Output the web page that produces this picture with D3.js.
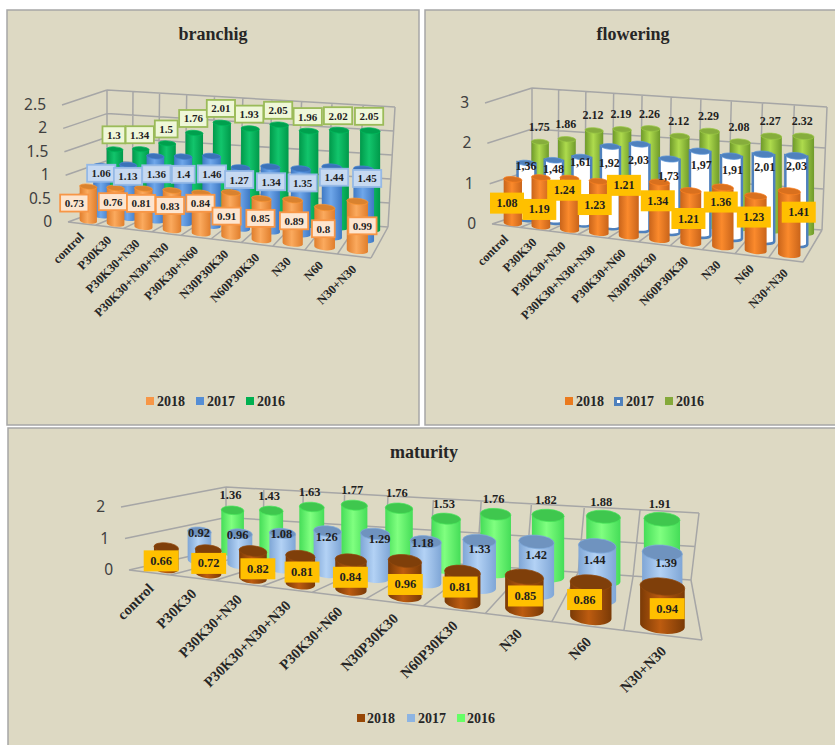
<!DOCTYPE html>
<html>
<head>
<meta charset="utf-8">
<script src="https://cdn.jsdelivr.net/npm/d3@7"></script>
<style>
	html, body { margin: 0; padding: 0; background: #fff; }
	svg { display: block; }
	.tick-label { font-family: "Noto Sans", sans-serif; font-size: 15.5px; fill: #404040; }
	.title { font-family: "Liberation Serif", serif; font-weight: bold; font-size: 18px; fill: #262626; text-anchor: middle; }
	.cat-label { font-family: "Liberation Serif", serif; font-weight: bold; fill: #262626; text-anchor: end; }
	.legend-label { font-family: "Liberation Serif", serif; font-weight: bold; font-size: 14px; fill: #262626; }
	.value-label { font-family: "Liberation Serif", serif; font-weight: bold; fill: #1f1f1f; text-anchor: middle; dominant-baseline: central; }
</style>
</head>
<body>
<svg id="plot"></svg>
<script>
const WIDTH = 835;
const HEIGHT = 745;

const categories = ["control", "P30K30", "P30K30+N30", "P30K30+N30+N30", "P30K30+N60", "N30P30K30", "N60P30K30", "N30", "N60", "N30+N30"];
const years = ["2018", "2017", "2016"];

const branchig2018 = [0.73, 0.76, 0.81, 0.83, 0.84, 0.91, 0.85, 0.89, 0.8, 0.99];
const branchig2017 = [1.06, 1.13, 1.36, 1.4, 1.46, 1.27, 1.34, 1.35, 1.44, 1.45];
const branchig2016 = [1.3, 1.34, 1.5, 1.76, 2.01, 1.93, 2.05, 1.96, 2.02, 2.05];

const flowering2018 = [1.08, 1.19, 1.24, 1.23, 1.21, 1.34, 1.21, 1.36, 1.23, 1.41];
const flowering2017 = [1.36, 1.48, 1.61, 1.92, 2.03, 1.73, 1.97, 1.91, 2.01, 2.03];
const flowering2016 = [1.75, 1.86, 2.12, 2.19, 2.26, 2.12, 2.29, 2.08, 2.27, 2.32];

const maturity2018 = [0.66, 0.72, 0.82, 0.81, 0.84, 0.96, 0.81, 0.85, 0.86, 0.94];
const maturity2017 = [0.92, 0.96, 1.08, 1.26, 1.29, 1.18, 1.33, 1.42, 1.44, 1.39];
const maturity2016 = [1.36, 1.43, 1.63, 1.77, 1.76, 1.53, 1.76, 1.82, 1.88, 1.91];

const branchigTicks = [0, 0.5, 1, 1.5, 2, 2.5];
const floweringTicks = [0, 1, 2, 3];
const maturityTicks = [0, 1, 2];

// data labels were dragged by hand in the original, these are the per-label offsets
const branchigNudge2018 = [[-8, 12], [3, 9], [3, 10], [3, 10], [4, 5], [0, 18], [3, 14], [5, 15], [2, 15], [8, 18]];
const branchigNudge2017 = [[3, 6], [3, 10], [4, 16], [3, 16], [3, 16], [1, 10], [3, 13], [4, 12], [4, 8], [5, 7]];
const floweringNudge2018 = [[-1, 17], [3, 25], [-1, 5], [0, 16], [-1, -7], [2, 11], [1, 20], [1, 7], [1, 13], [12, 13]];
const floweringNudge2017 = [[1, -5], [1, 0], [0, -4], [0, 8], [0, 7], [0, 8], [2, 5], [2, 5], [2, 4], [1, 1]];
const maturityNudge2018 = [[5, 7], [10, 7], [14, 11], [10, 9], [7, 10], [7, 16], [3, 7], [5, 11], [-4, 8], [5, 13]];
const maturityNudge2017 = [[3, -5], [1, -6], [2, -6], [2, -1], [7, -2], [-1, -6], [2, 1], [1, 6], [-2, 7], [4, 3]];

const panels = [
	{
		id: "branchig",
		title: "branchig",
		titleAt: [213, 40],
		box: [7, 10, 412, 415],
		series: [branchig2018, branchig2017, branchig2016],
		ticks: branchigTicks,
		floor: [[68, 222], [371, 258], [388, 227], [107, 208]],
		roof: [[62, 105], [376, 132], [395, 107], [107, 90]],
		warpFront: 1.12,
		warpBack: 1.12,
		radius: 0.32,
		tilt: 0.3,
		fontSize: 11,
		catFont: 12.4,
		catOffset: [3, 14],
		legendAt: [[146, 157], [196, 207], [246, 257]],
		legendY: 401,
		fills: [
			{ edge: "#e07e2c", mid: "#fbaa5e", top: "#d9822f" },
			{ edge: "#3f79c4", mid: "#6fa7ea", top: "#3b72b8" },
			{ edge: "#00994a", mid: "#12c56c", top: "#00a04e" },
		],
		swatches: ["#f79646", "#558ed5", "#00b050"],
		labels: [
			{ shift: -0.45, dx: 0, dy: 2, fill: "#fde5cf", stroke: "#f79646", nudge: branchigNudge2018 },
			{ shift: -0.25, dx: 0, dy: 0, fill: "#c6d9f1", stroke: "#95b9e6", nudge: branchigNudge2017 },
			{ shift: 0, dx: -1, dy: -14.5, fill: "#eff7d8", stroke: "#9bbb59" },
		],
	},
	{
		id: "flowering",
		title: "flowering",
		titleAt: [633, 40],
		box: [425, 10, 412, 415],
		series: [flowering2018, flowering2017, flowering2016],
		ticks: floweringTicks,
		floor: [[492, 224], [803, 262], [822, 230], [532, 211]],
		roof: [[485, 103], [808, 124], [827, 107], [532, 88]],
		warpFront: 1.12,
		warpBack: 1.12,
		radius: 0.33,
		tilt: 0.3,
		fontSize: 12,
		catFont: 12.4,
		catOffset: [3, 14],
		legendAt: [[565, 576], [614, 626], [665, 676]],
		legendY: 401,
		fills: [
			{ edge: "#c9641a", mid: "#fb8a2c", top: "#d9701e" },
			{ edge: "#ffffff", mid: "#ffffff", top: "#4f81bd", stroke: "#4f81bd" },
			{ edge: "#6f9a2a", mid: "#aedb4d", top: "#86ad3c" },
		],
		swatches: ["#ea7a1e", "#4f81bd", "#84a93a"],
		hollowSwatch: 1,
		labels: [
			{ shift: -0.35, dx: 0, dy: 5, fill: "#ffc000", nudge: floweringNudge2018 },
			{ shift: -0.1, dx: 0, dy: 8, comma: true, nudge: floweringNudge2017 },
			{ shift: 0, dx: -1, dy: -15 },
		],
	},
	{
		id: "maturity",
		title: "maturity",
		titleAt: [424, 458],
		box: [8, 428, 840, 330],
		series: [maturity2018, maturity2017, maturity2016],
		ticks: maturityTicks,
		floor: [[129, 570], [702, 640], [691, 580], [226, 548]],
		roof: [[121, 507], [712, 553], [699, 513], [226, 487]],
		warpFront: 1.42,
		warpBack: 1.28,
		radius: 0.3,
		tilt: 0.38,
		fontSize: 12.5,
		catFont: 14.5,
		catOffset: [5, 17],
		legendAt: [[357, 367], [407, 418], [457, 467]],
		legendY: 718,
		fills: [
			{ edge: "#7a3a06", mid: "#bd5c10", top: "#7f3f0a" },
			{ edge: "#7fa6d6", mid: "#b3d2f5", top: "#6f93bf" },
			{ edge: "#45dd58", mid: "#80ff80", top: "#3fc74e" },
		],
		swatches: ["#974706", "#8db4e2", "#66ff66"],
		labels: [
			{ shift: -0.3, dx: 0, dy: 4, fill: "#ffc000", nudge: maturityNudge2018 },
			{ shift: -0.1, dx: 0, dy: 6, nudge: maturityNudge2017 },
			{ shift: 0, dx: -2, dy: -15 },
		],
	},
];

const svg = d3.select("#plot").attr("width", WIDTH).attr("height", HEIGHT);
const defs = svg.append("defs");

const lerp = (a, b, t) => [a[0] + (b[0] - a[0]) * t, a[1] + (b[1] - a[1]) * t];
const quadAt = ([fl, fr, br, bl], u, d) => lerp(lerp(fl, fr, u), lerp(bl, br, u), d);
const segment = (a, b) => `M${a[0]},${a[1]}L${b[0]},${b[1]}`;

function drawPanel(panel) {
	const g = svg.append("g");
	const [bx, by, bw, bh] = panel.box;
	g.append("rect")
		.attr("x", bx).attr("y", by).attr("width", bw).attr("height", bh)
		.attr("fill", "#ddd9c3").attr("stroke", "#a6a6a6").attr("stroke-width", 1.5);

	g.append("text").attr("class", "title")
		.attr("x", panel.titleAt[0]).attr("y", panel.titleAt[1]).text(panel.title);

	const xScale = d3.scaleBand(categories, [0, 1]);
	const depthScale = d3.scaleBand(years, [0, 1.05]);
	const heightScale = d3.scaleLinear([0, d3.max(panel.ticks)], [0, 1]);
	// spacing widens towards the viewer side, as in the 3D original
	const warp = (u, d) => {
		const r = panel.warpFront + (panel.warpBack - panel.warpFront) * d;
		return u / (u + (1 - u) * r);
	};
	const project = (u, d, h) => lerp(quadAt(panel.floor, warp(u, d), d), quadAt(panel.roof, warp(u, d), d), h);
	// columns stand upright: x stays at the foot, only y follows the box
	const upright = (u, d, h) => [quadAt(panel.floor, warp(u, d), d)[0], project(u, d, h)[1]];

	// walls and floor
	let grid = "";
	panel.ticks.forEach(t => {
		const h = heightScale(t);
		grid += segment(project(0, 0, h), project(0, 1, h)) + segment(project(0, 1, h), project(1, 1, h));
	});
	d3.range(categories.length + 1).map(i => i / categories.length).forEach(u => {
		grid += segment(project(u, 0, 0), project(u, 1, 0)) + segment(project(u, 1, 0), project(u, 1, 1));
	});
	grid += segment(project(0, 0, 0), project(1, 0, 0));
	g.append("path").attr("d", grid).attr("fill", "none").attr("stroke", "#a6a6a6").attr("stroke-width", 1.5);

	panel.ticks.forEach(t => {
		const p = project(0, 0, heightScale(t));
		g.append("text").attr("class", "tick-label")
			.attr("x", p[0] - 16).attr("y", p[1] + 5).attr("text-anchor", "end").text(t);
	});

	categories.forEach(c => {
		const p = project(xScale(c) + xScale.bandwidth() / 2, 0, 0);
		g.append("text").attr("class", "cat-label")
			.attr("font-size", panel.catFont)
			.attr("transform", `translate(${p[0] + panel.catOffset[0]},${p[1] + panel.catOffset[1]}) rotate(-45)`)
			.text(c);
	});

	panel.fills.forEach((f, i) => {
		const grad = defs.append("linearGradient").attr("id", `${panel.id}-${i}`);
		grad.append("stop").attr("offset", "0%").attr("stop-color", f.edge);
		grad.append("stop").attr("offset", "45%").attr("stop-color", f.mid);
		grad.append("stop").attr("offset", "100%").attr("stop-color", f.edge);
	});

	// far row first
	const halfWidth = panel.radius * xScale.bandwidth();
	d3.range(years.length).reverse().forEach(s => {
		const f = panel.fills[s];
		const d = depthScale(years[s]) + depthScale.bandwidth() / 2;
		categories.forEach((c, i) => {
			const u = xScale(c) + xScale.bandwidth() / 2;
			const h = heightScale(panel.series[s][i]);
			const bl = upright(u - halfWidth, d, 0);
			const br = upright(u + halfWidth, d, 0);
			const tl = upright(u - halfWidth, d, h);
			const tr = upright(u + halfWidth, d, h);
			const rx = Math.hypot(tr[0] - tl[0], tr[1] - tl[1]) / 2;
			const ry = rx * panel.tilt;
			const angle = Math.atan2(tr[1] - tl[1], tr[0] - tl[0]) * 180 / Math.PI;
			g.append("path")
				.attr("d", `M${tl[0]},${tl[1]}L${bl[0]},${bl[1]}A${rx},${ry} ${angle} 0 0 ${br[0]},${br[1]}L${tr[0]},${tr[1]}Z`)
				.attr("fill", `url(#${panel.id}-${s})`)
				.attr("stroke", f.stroke || "none")
				.attr("stroke-width", f.stroke ? 2.5 : 0);
			const cx = (tl[0] + tr[0]) / 2;
			const cy = (tl[1] + tr[1]) / 2;
			g.append("ellipse")
				.attr("cx", cx).attr("cy", cy).attr("rx", rx).attr("ry", ry)
				.attr("transform", `rotate(${angle} ${cx} ${cy})`)
				.attr("fill", f.top)
				.attr("stroke", d3.color(f.top).brighter(0.4))
				.attr("stroke-width", 0.7);
		});
	});

	// data labels sit on top of every column
	d3.range(years.length).reverse().forEach(s => {
		const style = panel.labels[s];
		const d = depthScale(years[s]) + depthScale.bandwidth() / 2 + style.shift * depthScale.bandwidth();
		categories.forEach((c, i) => {
			const value = panel.series[s][i];
			const p = upright(xScale(c) + xScale.bandwidth() / 2, d, heightScale(value));
			const [nx, ny] = style.nudge ? style.nudge[i] : [0, 0];
			const x = p[0] + style.dx + nx;
			const y = p[1] + style.dy + ny;
			const text = style.comma ? String(value).replace(".", ",") : String(value);
			const box = g.append("rect");
			const t = g.append("text").attr("class", "value-label")
				.attr("font-size", panel.fontSize).attr("x", x).attr("y", y).text(text);
			if (style.fill) {
				const w = t.node().getComputedTextLength() + (style.stroke ? 9 : 13);
				const ht = style.stroke ? 17 : 21;
				box.attr("x", x - w / 2).attr("y", y - ht / 2).attr("width", w).attr("height", ht)
					.attr("fill", style.fill)
					.attr("stroke", style.stroke || "none")
					.attr("stroke-width", style.stroke ? 1.8 : 0);
			} else {
				box.remove();
			}
		});
	});

	years.forEach((year, i) => {
		const [sx, tx] = panel.legendAt[i];
		const hollow = panel.hollowSwatch === i;
		g.append("rect")
			.attr("x", sx + (hollow ? 1.5 : 0)).attr("y", panel.legendY - 4 + (hollow ? 1.5 : 0))
			.attr("width", hollow ? 6 : 8).attr("height", hollow ? 6 : 8)
			.attr("fill", hollow ? "#fff" : panel.swatches[i])
			.attr("stroke", hollow ? panel.swatches[i] : "none")
			.attr("stroke-width", hollow ? 3 : 0);
		g.append("text").attr("class", "legend-label")
			.attr("x", tx).attr("y", panel.legendY + 5).text(year);
	});
}

panels.forEach(drawPanel);
</script>
</body>
</html>
